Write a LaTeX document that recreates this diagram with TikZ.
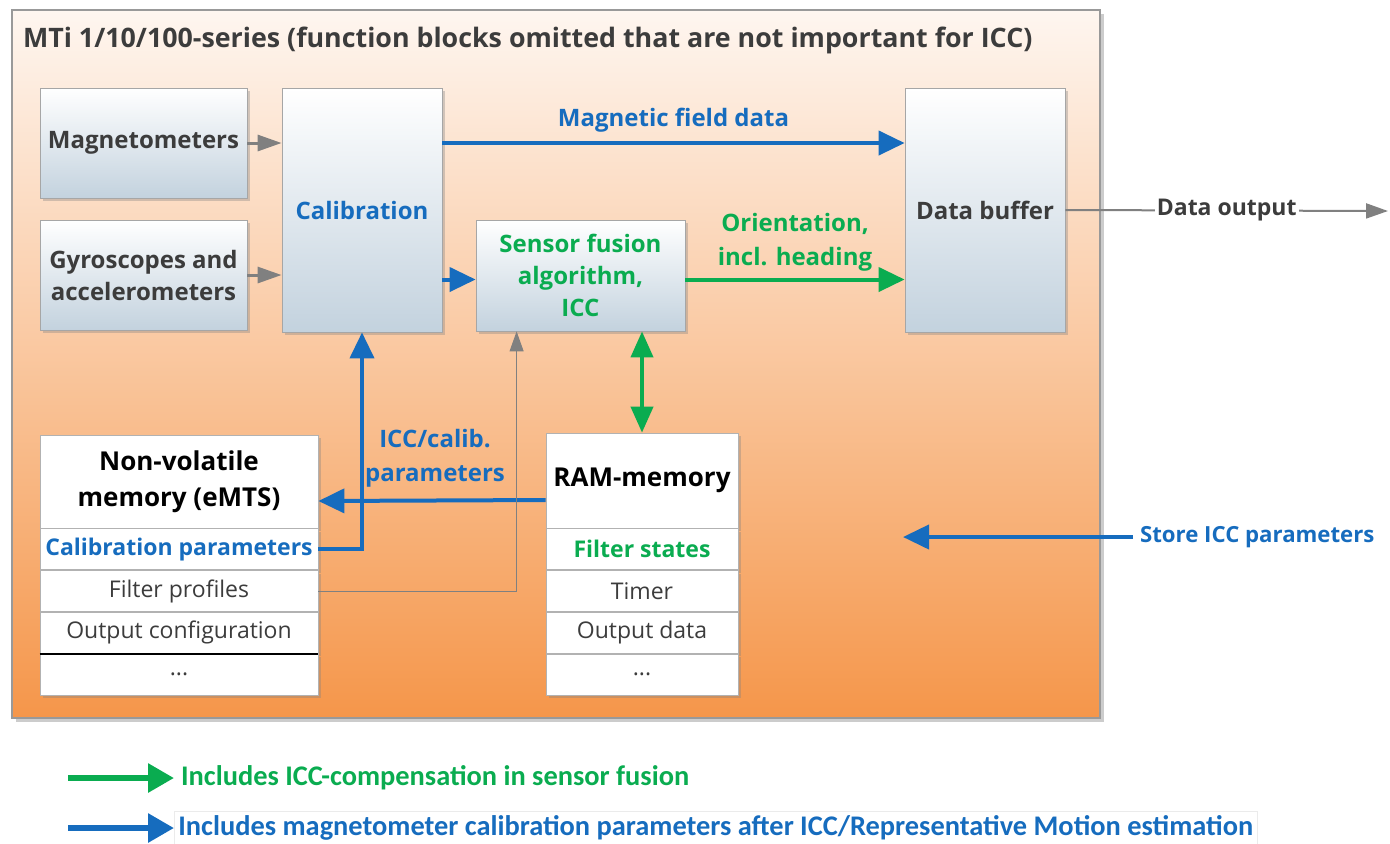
\documentclass[tikz,border=0pt]{standalone}
\usepackage{fontspec}
\setmainfont{Open Sans}
\newfontfamily\legendfont{Carlito}
\usetikzlibrary{positioning}
\usetikzlibrary{arrows.meta}
\usetikzlibrary{shadows}
\usepackage{xcolor}

\definecolor{xblue}{RGB}{22,108,190}
\definecolor{xgreen}{RGB}{10,172,80}
\definecolor{xgray}{RGB}{128,128,128}
\definecolor{xtext}{RGB}{60,60,60}
\definecolor{boxlow}{RGB}{195,210,222}
\definecolor{framehi}{RGB}{254,246,240}
\definecolor{framelo}{RGB}{245,150,74}

\tikzset{
  block/.style={draw=gray!70, top color=white, bottom color=boxlow,
    drop shadow={opacity=.35, shadow xshift=1.5pt, shadow yshift=-1.5pt},
    align=center, text=xtext, inner sep=2pt,
    font=\fontsize{12}{16}\selectfont\bfseries},
  memhead/.style={draw=gray!60, fill=white, minimum width=#1, align=center,
    inner sep=0pt, drop shadow={opacity=.35, shadow xshift=1.5pt, shadow yshift=-1.5pt},
    font=\fontsize{13}{18}\selectfont\bfseries},
  memrow/.style={draw=gray!60, fill=white, minimum width=#1, minimum height=20.5pt,
    inner sep=0pt, text=xtext, drop shadow={opacity=.35, shadow xshift=1.5pt, shadow yshift=-1.5pt},
    font=\fontsize{11.5}{13}\selectfont},
  bluearrow/.style={xblue, line width=2pt, ->, >={Triangle[length=13pt,width=12pt]}},
  greenarrow/.style={xgreen, line width=2pt, ->, >={Triangle[length=13pt,width=12pt]}},
  grayarrow/.style={xgray, line width=1.5pt, ->, >={Triangle[length=12pt,width=8pt]}},
  lbl/.style={font=\fontsize{12}{17}\selectfont\bfseries, align=center}
}

\begin{document}
\begin{tikzpicture}[x=0.5pt, y=-0.5pt]
\useasboundingbox (0,0) rectangle (1390,843);

% outer frame
\node[draw=gray!80, line width=1.2pt, top color=framehi, bottom color=framelo,
  minimum width=544pt, minimum height=354pt, inner sep=0pt,
  drop shadow={opacity=.4, shadow xshift=2pt, shadow yshift=-2pt}] (mti) at (556,364) {};
\node[anchor=west, text=xtext, font=\fontsize{13.4}{16}\selectfont\bfseries] (title) at (16,40)
  {MTi 1/10/100-series (function blocks omitted that are not important for ICC)};

% function blocks
\node[block, minimum width=103.5pt, minimum height=55pt] (mag) at (143.5,143) {Magnetometers};
\node[block, minimum width=103.5pt, minimum height=55pt] (gyro) at (143.5,275) {Gyroscopes and\\accelerometers};
\node[block, minimum width=80pt, minimum height=122pt, text=xblue] (calib) at (362,210) {Calibration};
\node[block, minimum width=104.5pt, minimum height=55.5pt, text=xgreen] (fusion) at (580.5,275.5) {Sensor fusion\\algorithm,\\ICC};
\node[block, minimum width=80pt, minimum height=122pt] (dbuf) at (985,210) {Data buffer};

% non-volatile memory
\node[memhead=139pt, minimum height=46.5pt, text=black] (nvmhead) at (179,481.5) {Non-volatile\\memory (eMTS)};
\node[memrow=139pt, below=0pt of nvmhead, text=xblue, font=\fontsize{11.5}{13}\selectfont\bfseries] (nvm1) {Calibration parameters};
\node[memrow=139pt, below=0pt of nvm1] (nvm2) {Filter profiles};
\node[memrow=139pt, below=0pt of nvm2] (nvm3) {Output configuration};
\node[memrow=139pt, below=0pt of nvm3] (nvm4) {...};
\draw[black, thick] (nvm4.north west) -- (nvm4.north east);

% RAM memory
\node[memhead=96pt, minimum height=47.5pt, text=black] (ramhead) at (642,480.5) {RAM-memory};
\node[memrow=96pt, below=0pt of ramhead, text=xgreen, font=\fontsize{11.5}{13}\selectfont\bfseries] (ram1) {Filter states};
\node[memrow=96pt, below=0pt of ram1] (ram2) {Timer};
\node[memrow=96pt, below=0pt of ram2] (ram3) {Output data};
\node[memrow=96pt, below=0pt of ram3] (ram4) {...};

% connectors
\draw[grayarrow] (mag.east) -- (calib.west |- mag.east);
\draw[grayarrow] (gyro.east) -- (calib.west |- gyro.east);
\draw[bluearrow] (calib.east |- mag.east) -- (dbuf.west |- mag.east)
  node[lbl, midway, above, text=xblue, yshift=1pt] {Magnetic field data};
\draw[bluearrow] ([yshift=-2pt]calib.east |- fusion.west) -- ([yshift=-2pt]fusion.west);
\draw[greenarrow] ([yshift=-2pt]fusion.east) -- ([yshift=-2pt]dbuf.west |- fusion.east)
  node[lbl, midway, above, text=xgreen] {Orientation,\\incl. heading};
\draw[xgreen, line width=2pt, <->, >={Triangle[length=13pt,width=11pt]}] (ramhead.north |- fusion.south) -- (ramhead.north);
\draw[bluearrow] ([yshift=-9.75pt]ramhead.west) -- ([yshift=-9.75pt]nvmhead.east);
\node[lbl, text=xblue] (icclbl) at (435,458) {ICC/calib.\\parameters};
\draw[bluearrow] (nvm1.east) -| (calib.south);
\draw[xgray, line width=.5pt, ->, >={Triangle[length=10pt,width=7pt]}] (nvm2.east) -| ([xshift=20.5pt]fusion.south west);

% data output
\coordinate (dout) at (1388,211);
\draw[xgray, line width=1pt, ->, >={Triangle[length=11pt,width=7.5pt]}] (dbuf.east) -- (dout)
  node[midway, fill=white, inner sep=1pt, text=xtext, font=\fontsize{11.5}{13}\selectfont\bfseries] (doutlbl) {Data output};

% store ICC parameters
\node[anchor=west, text=xblue, font=\fontsize{11.1}{13}\selectfont\bfseries] (store) at (1133,537) {Store ICC parameters};
\coordinate (storeend) at (903,537);
\draw[bluearrow] (store.west) -- (storeend);

% legend
\node[anchor=west, text=xgreen, font=\legendfont\fontsize{14.2}{15}\selectfont\bfseries] (leg1) at (174,778) {Includes ICC-compensation in sensor fusion};
\node[anchor=west, text=xblue, draw=black!8, inner sep=2pt, font=\legendfont\fontsize{14.2}{15}\selectfont\bfseries] (leg2) at (174,828) {Includes magnetometer calibration parameters after ICC/Representative Motion estimation};
\coordinate (leg1start) at (68,778);
\coordinate (leg2start) at (68,828);
\draw[xgreen, line width=3pt, ->, >={Triangle[length=13pt,width=14pt]}] (leg1start) -- (leg1.west);
\draw[xblue, line width=3pt, ->, >={Triangle[length=13pt,width=14pt]}] (leg2start) -- (leg2.west);
\end{tikzpicture}
\end{document}
